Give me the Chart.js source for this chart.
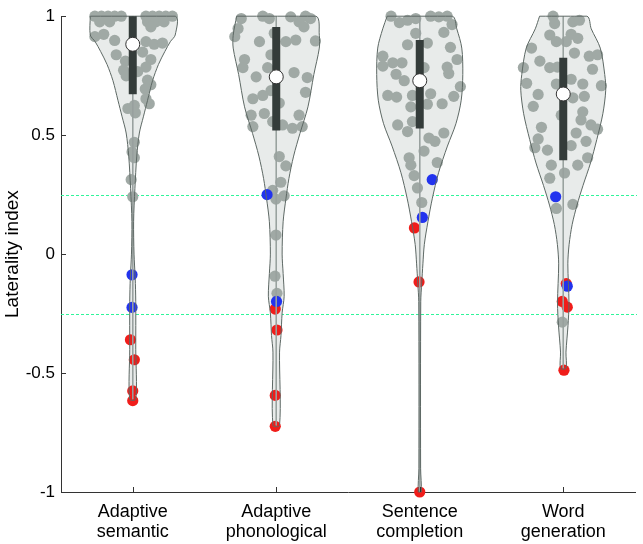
<!DOCTYPE html>
<html><head><meta charset="utf-8">
<script src="https://cdn.jsdelivr.net/npm/chart.js@4/dist/chart.umd.min.js"></script>
<style>html,body{margin:0;padding:0;background:#fff}</style>
</head><body>
<canvas id="c" width="643" height="544" style="width:643px;height:544px;display:block"></canvas>
<script>
// ---- data ----
const categories = [["Adaptive","semantic"],["Adaptive","phonological"],["Sentence","completion"],["Word","generation"]];
const yTicks = [-1, -0.5, 0, 0.5, 1];
const thresholds = [0.25, -0.25];

// violin half-width profiles (x units) at given laterality levels
const violin1Y = [1.0, 0.921, 0.893, 0.852, 0.797, 0.729, 0.646, 0.577, 0.509, 0.412, 0.275, 0.137, 0.0, -0.1, -0.2, -0.4, -0.61];
const violin1W = [0.296, 0.296, 0.262, 0.224, 0.179, 0.138, 0.103, 0.074, 0.046, 0.028, 0.015, 0.006, 0.009, 0.017, 0.021, 0.021, 0.021];
const violin2Y = [1.0, 0.92, 0.866, 0.755, 0.619, 0.507, 0.412, 0.317, 0.235, 0.136, 0.0, -0.082, -0.177, -0.247, -0.342, -0.412, -0.72];
const violin2W = [0.276, 0.300, 0.300, 0.262, 0.221, 0.165, 0.121, 0.088, 0.068, 0.048, 0.041, 0.048, 0.055, 0.041, 0.033, 0.023, 0.023];
const violin3Y = [1.0, 0.947, 0.866, 0.755, 0.647, 0.548, 0.454, 0.342, 0.235, 0.136, 0.041, -0.041, -0.12, -0.2, -0.9, -1.0];
const violin3W = [0.227, 0.258, 0.293, 0.300, 0.289, 0.252, 0.193, 0.131, 0.088, 0.057, 0.032, 0.022, 0.014, 0.007, 0.006, 0.010];
const violin4Y = [1.0, 0.947, 0.866, 0.755, 0.689, 0.59, 0.482, 0.383, 0.289, 0.206, 0.124, 0.041, -0.041, -0.206, -0.301, -0.412, -0.48];
const violin4W = [0.165, 0.195, 0.258, 0.289, 0.296, 0.276, 0.234, 0.190, 0.138, 0.096, 0.062, 0.041, 0.032, 0.040, 0.033, 0.019, 0.019];

const boxQ1 = [0.672, 0.52, 0.528, 0.395];
const boxQ3 = [1.0, 0.955, 0.90, 0.825];
const medians = [0.882, 0.745, 0.729, 0.673];

// grey participants: jitter offset and laterality index
const grey1Off = [-0.264,-0.218,-0.172,-0.126,-0.080,0.092,0.138,0.184,0.230,0.276,-0.23,-0.161,0.103,0.161,0.218,0.126,-0.264,-0.202,-0.126,0.092,0.149,0.207,-0.115,0.069,0.126,-0.051,0.092,-0.064,0.034,0.103,-0.046,0.126,0.087,0.092,0.115,0.011,-0.034,0.018,0.011,-0.005,0.011,-0.011,0];
const grey1Y = [1,1,1,1,1,1,1,1,1,1,0.976,0.976,0.976,0.976,0.976,0.955,0.914,0.924,0.898,0.893,0.882,0.887,0.838,0.849,0.818,0.811,0.786,0.773,0.767,0.731,0.749,0.712,0.694,0.653,0.632,0.625,0.612,0.594,0.470,0.429,0.405,0.313,0.241];
const grey2Off = [-0.244,-0.094,-0.048,0.101,0.159,0.204,0.239,-0.266,-0.289,-0.117,-0.014,0.067,0.136,0.193,0.273,-0.221,-0.037,-0.232,-0.060,-0.140,0.124,0.216,0.204,-0.037,-0.094,-0.163,0.021,-0.175,-0.083,0.159,-0.025,-0.163,0.044,0.113,0.181,0.021,0.067,0.032,-0.025,0.055,-0.002,-0.002,-0.009,0.005];
const grey2Y = [0.990,1.0,0.990,0.997,0.976,1.0,0.990,0.948,0.914,0.893,0.928,0.893,0.900,0.955,0.896,0.818,0.838,0.784,0.784,0.745,0.763,0.742,0.680,0.687,0.667,0.653,0.635,0.584,0.591,0.584,0.557,0.536,0.543,0.529,0.536,0.410,0.371,0.302,0.268,0.245,0.231,0.080,-0.093,-0.165];
const grey3Off = [-0.200,-0.142,-0.085,-0.028,0.076,0.133,0.191,0.225,0.168,-0.028,-0.085,0.053,0.214,-0.257,-0.257,-0.188,-0.124,-0.165,-0.108,0.191,0.260,0.202,0.283,0.030,-0.223,-0.161,-0.051,0.076,0.237,-0.062,0.053,0.156,-0.154,-0.085,-0.051,0.064,0.106,0.168,0.030,-0.074,-0.062,0.122,-0.039,-0.016,0.014];
const grey3Y = [1.0,0.973,0.983,0.990,1.0,0.997,1.0,0.965,0.932,0.928,0.880,0.887,0.869,0.832,0.790,0.804,0.804,0.756,0.729,0.786,0.818,0.759,0.704,0.784,0.667,0.660,0.667,0.674,0.663,0.619,0.630,0.632,0.543,0.515,0.557,0.488,0.474,0.509,0.433,0.405,0.374,0.385,0.330,0.278,0.217];
const grey4Off = [-0.071,-0.060,0.067,0.113,0.055,-0.094,-0.048,0.021,0.101,-0.221,-0.278,-0.255,-0.163,-0.094,-0.041,0.078,0.181,0.239,0.204,-0.048,0.055,0.136,0.266,-0.175,-0.209,-0.014,0.067,0.147,0.136,0.124,0.193,0.239,-0.152,-0.175,-0.198,-0.110,0.090,0.159,0.055,0.170,-0.083,0.101,0.009,-0.094,0.067,-0.048,-0.007];
const grey4Y = [1.0,0.969,0.976,0.983,0.924,0.921,0.893,0.893,0.907,0.866,0.784,0.718,0.811,0.784,0.786,0.845,0.832,0.838,0.777,0.715,0.735,0.715,0.708,0.671,0.621,0.584,0.657,0.663,0.598,0.564,0.543,0.525,0.533,0.484,0.447,0.437,0.509,0.474,0.456,0.405,0.374,0.374,0.341,0.319,0.209,0.192,-0.286];

// blue participants
const blue1Off = [-0.005,-0.005]; const blue1Y = [-0.087,-0.224];
const blue2Off = [-0.064,0.002];  const blue2Y = [0.250,-0.199];
const blue3Off = [0.087,0.018];   const blue3Y = [0.313,0.154];
const blue4Off = [-0.053,0.028];  const blue4Y = [0.241,-0.135];
// red participants
const red1Off = [-0.016,0.011,0,0];          const red1Y = [-0.360,-0.444,-0.575,-0.616];
const red2Off = [-0.007,0.005,-0.007,-0.007]; const red2Y = [-0.231,-0.319,-0.594,-0.724];
const red3Off = [-0.037,-0.005,0];            const red3Y = [0.110,-0.117,-1.0];
const red4Off = [0.021,-0.007,0.028,0.005];   const red4Y = [-0.124,-0.199,-0.223,-0.488];

// ---- build ----
const centers = [1,2,3,4];
const violinsY = [violin1Y, violin2Y, violin3Y, violin4Y];
const violinsW = [violin1W, violin2W, violin3W, violin4W];
const greyOff = [grey1Off, grey2Off, grey3Off, grey4Off], greyY = [grey1Y, grey2Y, grey3Y, grey4Y];
const blueOff = [blue1Off, blue2Off, blue3Off, blue4Off], blueY = [blue1Y, blue2Y, blue3Y, blue4Y];
const redOff = [red1Off, red2Off, red3Off, red4Off], redY = [red1Y, red2Y, red3Y, red4Y];

function violinShape(c, Y, W) {
  const left = Y.map((y, i) => ({x: c - W[i], y}));
  const right = Y.map((y, i) => ({x: c + W[i], y})).reverse();
  return [...left, ...right, left[0]];
}
function pts(c, off, ys) { return ys.map((y, i) => ({x: c + off[i], y})); }

const FILL = '#e8ebea', EDGE = '#5d6864', GREY = '#a0a9a5', BOX = '#343c3a';
const datasets = [];
centers.forEach((c, k) => {
  const shape = violinShape(c, violinsY[k], violinsW[k]);
  datasets.push({data: shape, showLine: true, fill: 'shape', backgroundColor: FILL, borderWidth: 0,
    borderColor: 'rgba(0,0,0,0)', pointRadius: 0, tension: 0.3, order: 90});
  datasets.push({data: pts(c, greyOff[k], greyY[k]), pointRadius: 5.6, pointBackgroundColor: GREY,
    pointBorderWidth: 0, clip: false, order: 70});
  datasets.push({data: pts(c, redOff[k], redY[k]), pointRadius: 5.6, pointBackgroundColor: '#f01d1a',
    pointBorderWidth: 0, clip: false, order: 66});
  datasets.push({data: pts(c, blueOff[k], blueY[k]), pointRadius: 5.6, pointBackgroundColor: '#2233ee',
    pointBorderWidth: 0, clip: false, order: 65});
  datasets.push({data: [{x: c, y: violinsY[k][0]}, {x: c, y: violinsY[k][violinsY[k].length - 1]}],
    showLine: true, borderColor: '#98a19e', borderWidth: 1, pointRadius: 0, order: 62});
  datasets.push({data: shape, showLine: true, fill: false, borderColor: EDGE, borderWidth: 1,
    pointRadius: 0, tension: 0.3, clip: false, order: 60});
  datasets.push({data: [{x: c, y: boxQ1[k]}, {x: c, y: boxQ3[k]}], showLine: true, borderColor: BOX,
    borderWidth: 8, borderCapStyle: 'butt', pointRadius: 0, clip: false, order: 50});
  datasets.push({data: [{x: c, y: medians[k]}], pointRadius: 7, pointBackgroundColor: '#ffffff',
    pointBorderColor: '#333333', pointBorderWidth: 1, clip: false, order: 40});
});

const thresholdLines = {
  id: 'thresholdLines',
  beforeDatasetsDraw(chart) {
    const {ctx, scales: {x, y}} = chart;
    ctx.save();
    ctx.strokeStyle = '#30f59a'; ctx.lineWidth = 1; ctx.setLineDash([3, 2]);
    thresholds.forEach(t => {
      const py = Math.round(y.getPixelForValue(t)) + 0.5;
      ctx.beginPath(); ctx.moveTo(x.left, py); ctx.lineTo(x.right + 2, py); ctx.stroke();
    });
    ctx.restore();
  }
};
const inwardTicks = {
  id: 'inwardTicks',
  afterDraw(chart) {
    const {ctx, scales: {x, y}} = chart;
    ctx.save();
    ctx.strokeStyle = '#333'; ctx.lineWidth = 1; ctx.beginPath();
    yTicks.forEach(v => { const py = Math.round(y.getPixelForValue(v)) + 0.5; ctx.moveTo(x.left, py); ctx.lineTo(x.left + 5, py); });
    centers.forEach(c => { const px = Math.round(x.getPixelForValue(c)) + 0.5; ctx.moveTo(px, y.bottom); ctx.lineTo(px, y.bottom - 5); });
    ctx.stroke(); ctx.restore();
  }
};

const FONT = "'Liberation Sans', Arial, Helvetica, sans-serif";
new Chart(document.getElementById('c'), {
  type: 'scatter',
  data: {datasets},
  options: {
    responsive: false, animation: false, devicePixelRatio: 1,
    layout: {padding: {top: 7, right: 2, bottom: 0, left: 0}},
    plugins: {legend: {display: false}, tooltip: {enabled: false}},
    events: [],
    scales: {
      x: {
        type: 'linear', min: 0.5, max: 4.5,
        afterBuildTicks: s => { s.ticks = centers.map(v => ({value: v})); },
        afterFit: s => { s.height = 52; },
        grid: {drawOnChartArea: false, drawTicks: false},
        border: {display: true, color: '#333', width: 1},
        ticks: {callback: v => categories[v - 1], color: '#000', padding: 10, maxRotation: 0, autoSkip: false,
          font: {family: FONT, size: 18, lineHeight: 1.12}}
      },
      y: {
        type: 'linear', min: -1, max: 1,
        afterBuildTicks: s => { s.ticks = yTicks.map(v => ({value: v})); },
        afterFit: s => { s.width = 61; },
        grid: {drawOnChartArea: false, drawTicks: false},
        border: {display: true, color: '#333', width: 1},
        ticks: {callback: v => String(v), color: '#000', padding: 6, font: {family: FONT, size: 17}},
        title: {display: true, text: 'Laterality index', color: '#000', padding: {top: 1, bottom: 0},
          font: {family: FONT, size: 19}}
      }
    }
  },
  plugins: [thresholdLines, inwardTicks]
});
</script>
</body></html>
